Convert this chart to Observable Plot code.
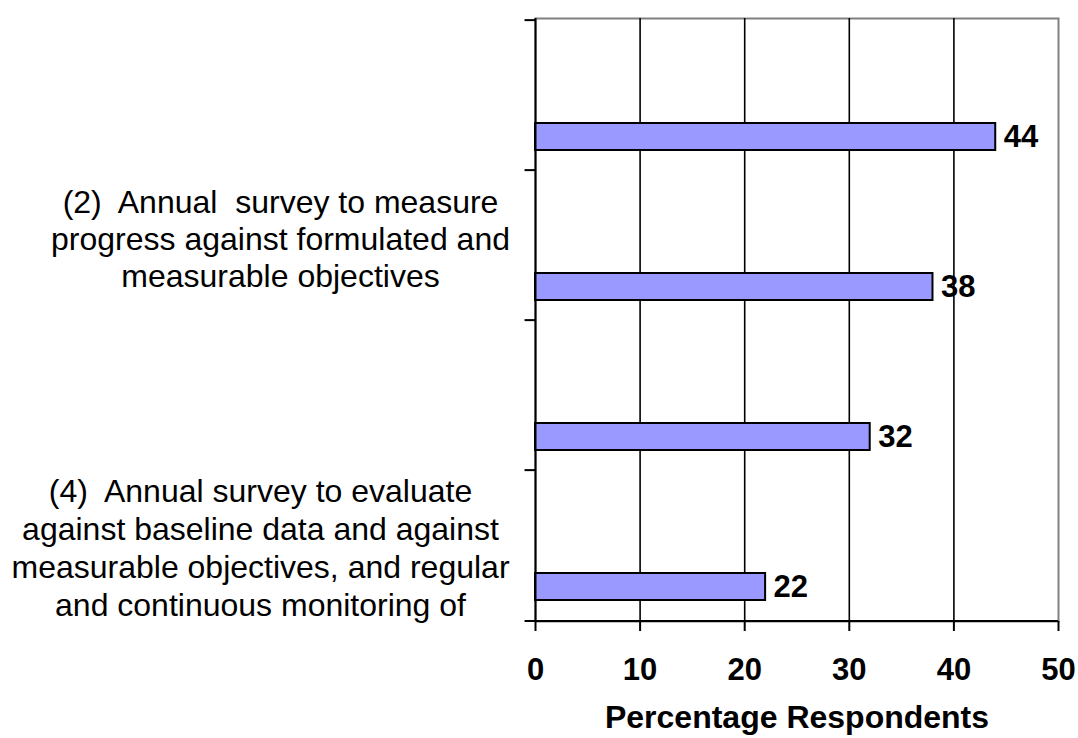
<!DOCTYPE html>
<html>
<head>
<meta charset="utf-8">
<script src="https://cdn.jsdelivr.net/npm/d3@7"></script>
<script src="https://cdn.jsdelivr.net/npm/@observablehq/plot@0.6"></script>
<style>
  html, body { margin: 0; padding: 0; background: white; }
  svg text { white-space: pre; }
</style>
</head>
<body>
<div id="chart"></div>
<script>
const categories = ["(1)", "(2)", "(3)", "(4)"];
const values = [44, 38, 32, 22];
const categoryLabels = [
  "",
  "(2)  Annual  survey to measure\nprogress against formulated and\nmeasurable objectives",
  "",
  "(4)  Annual survey to evaluate\nagainst baseline data and against\nmeasurable objectives, and regular\nand continuous monitoring of"
];
const xTicks = [0, 10, 20, 30, 40, 50];
const axisTitle = "Percentage Respondents";

const data = categories.map((c, i) => ({cat: c, value: values[i], label: categoryLabels[i]}));
const labelOf = new Map(data.map(d => [d.cat, d.label]));

const W = 1078, H = 738;
const mTop = 18, mBottom = 117, mLeft = 535, mRight = 20;
const band = (H - mTop - mBottom) / categories.length;
const font = "'Liberation Sans', Arial, Helvetica, sans-serif";

const chart = Plot.plot({
  width: W,
  height: H,
  marginTop: mTop,
  marginBottom: mBottom,
  marginLeft: mLeft,
  marginRight: mRight,
  style: {fontFamily: font, background: "white", color: "black", overflow: "visible"},
  x: {domain: [0, 50], ticks: xTicks},
  y: {domain: categories, padding: 0},
  marks: [
    Plot.frame({stroke: "#808080", strokeWidth: 2}),
    Plot.ruleX(xTicks.filter(t => t > 0 && t < 50), {stroke: "black", strokeWidth: 1.6}),
    Plot.barX(data, {x: "value", y: "cat", fill: "#9999ff", stroke: "black", strokeWidth: 2, insetTop: 103, insetBottom: 20}),
    Plot.text(data, {x: "value", y: "cat", text: d => String(d.value), dx: 8, dy: 42, textAnchor: "start", fontWeight: "bold", fontSize: 31, fill: "black"}),
    Plot.ruleX([0], {stroke: "black", strokeWidth: 2}),
    Plot.ruleY(categories, {y: d => d, x1: -1, x2: 0, dy: -band / 2, stroke: "black", strokeWidth: 2}),
    Plot.ruleY([categories[categories.length - 1]], {y: d => d, x1: -1, x2: 50, dy: band / 2, stroke: "black", strokeWidth: 2}),
    Plot.axisX({ticks: xTicks, tickSize: 10, tickPadding: 26, fontSize: 31, fontWeight: "bold", label: null, stroke: "black", strokeWidth: 2}),
    Plot.axisY([categories[1]], {tickSize: 0, tickPadding: 255, dy: -7, tickFormat: d => labelOf.get(d), textAnchor: "middle", fontSize: 32, lineHeight: 1.15, label: null}),
    Plot.axisY([categories[3]], {tickSize: 0, tickPadding: 275, dy: 1, tickFormat: d => labelOf.get(d), textAnchor: "middle", fontSize: 32, lineHeight: 1.19, label: null}),
    Plot.text([axisTitle], {frameAnchor: "bottom", text: d => d, dy: 106, fontSize: 32, fontWeight: "bold", fill: "black"})
  ]
});
document.getElementById("chart").appendChild(chart);
</script>
</body>
</html>
